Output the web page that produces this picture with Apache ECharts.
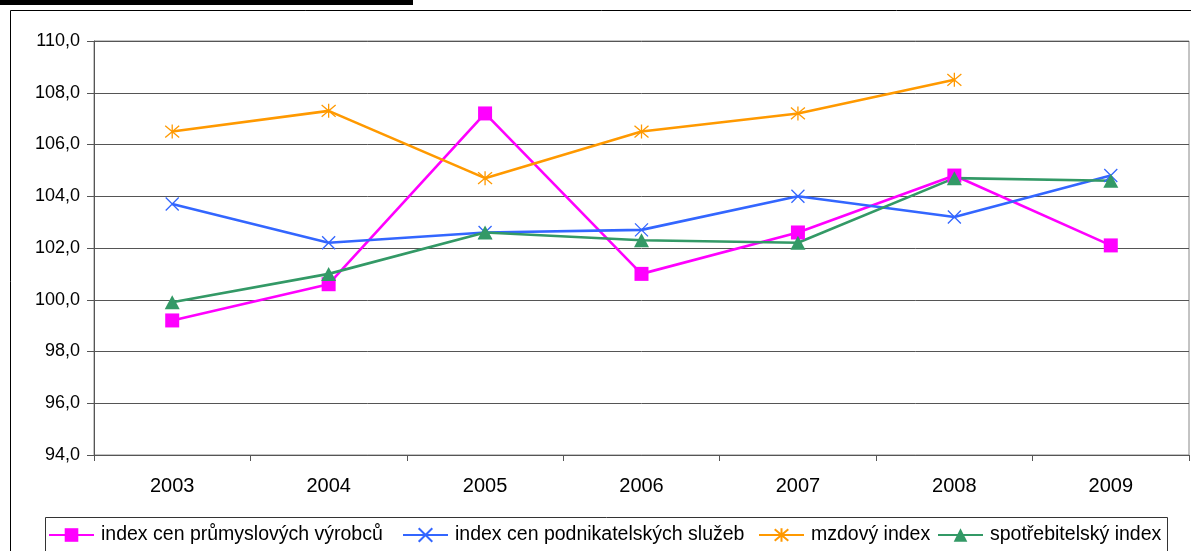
<!DOCTYPE html>
<html>
<head>
<meta charset="utf-8">
<script src="https://cdn.jsdelivr.net/npm/echarts@6/dist/echarts.min.js"></script>
<style>
  html, body { margin: 0; padding: 0; background: #fff; }
  #chart { width: 1191px; height: 551px; }
</style>
</head>
<body>
<div id="chart"></div>
<script>
// Years on the category axis
const years = ['2003', '2004', '2005', '2006', '2007', '2008', '2009'];

// Index values (previous year = 100)
const prumyslVyrobci = [99.2, 100.6, 107.2, 101.0, 102.6, 104.8, 102.1];
const podnikSluzby   = [103.7, 102.2, 102.6, 102.7, 104.0, 103.2, 104.8];
const mzdovyIndex    = [106.5, 107.3, 104.7, 106.5, 107.2, 108.5, null];
const spotrebIndex   = [99.9, 101.0, 102.6, 102.3, 102.2, 104.7, 104.6];

// Series names
const seriesNames = [
  'index cen průmyslových výrobců',
  'index cen podnikatelských služeb',
  'mzdový index',
  'spotřebitelský index'
];

// Value axis range
const yMin = 94, yMax = 110, yStep = 2;

const FONT = '"Liberation Sans", Arial, sans-serif';
const CROSS = 'path://M0,0L10,10M10,0L0,10';
const STAR = 'path://M0,0L10,10M10,0L0,10M5,-1L5,11';

const chart = echarts.init(document.getElementById('chart'), null, { renderer: 'canvas' });

function lineSeries(name, data, color, symbol, size, stroked) {
  return {
    name: name,
    type: 'line',
    data: data,
    symbol: symbol,
    symbolSize: size,
    showAllSymbol: true,
    connectNulls: false,
    lineStyle: { color: color, width: 2.6 },
    itemStyle: stroked
      ? { color: color, borderColor: color, borderWidth: 1.3 }
      : { color: color, borderWidth: 0 },
    emphasis: { disabled: true },
    animation: false
  };
}

function legendItem(name, left) {
  return {
    data: [name],
    left: left,
    top: 525,
    padding: 0,
    itemWidth: 45,
    itemHeight: 17,
    selectedMode: false,
    textStyle: { fontFamily: FONT, fontSize: 19.5, color: '#000', padding: [0, 0, 0, 2] }
  };
}

chart.setOption({
  backgroundColor: '#fff',
  animation: false,
  textStyle: { fontFamily: FONT },
  graphic: [
    { type: 'rect', shape: { x: 0, y: 0, width: 413, height: 5 }, style: { fill: '#000' }, silent: true },
    { type: 'rect', shape: { x: 10.5, y: 10.5, width: 1300, height: 700 }, style: { fill: 'none', stroke: '#000', lineWidth: 1 }, silent: true },
    { type: 'rect', shape: { x: 45.5, y: 517.5, width: 1122, height: 60 }, style: { fill: 'none', stroke: '#333', lineWidth: 1 }, silent: true }
  ],
  grid: {
    left: 94, top: 41, right: 2, bottom: 96,
    show: true, borderColor: '#888', borderWidth: 1, backgroundColor: 'transparent'
  },
  legend: [
    legendItem(seriesNames[0], 48),
    legendItem(seriesNames[1], 402),
    legendItem(seriesNames[2], 758),
    legendItem(seriesNames[3], 937)
  ],
  xAxis: {
    type: 'category',
    data: years,
    boundaryGap: true,
    axisLine: { lineStyle: { color: '#555', width: 1 } },
    axisTick: { show: true, length: 6, inside: false, lineStyle: { color: '#555' } },
    axisLabel: { color: '#000', fontSize: 20, fontFamily: FONT, margin: 21 },
    splitLine: { show: false }
  },
  yAxis: {
    type: 'value',
    min: yMin, max: yMax, interval: yStep,
    axisLine: { show: true, lineStyle: { color: '#555', width: 1 } },
    axisTick: { show: true, length: 7, lineStyle: { color: '#555' } },
    axisLabel: {
      color: '#000', fontSize: 18, fontFamily: FONT, margin: 14,
      formatter: v => v.toFixed(1).replace('.', ',')
    },
    splitLine: { show: true, lineStyle: { color: '#555', width: 1 } }
  },
  series: [
    lineSeries(seriesNames[0], prumyslVyrobci, '#FF00FF', 'rect', 14, false),
    lineSeries(seriesNames[1], podnikSluzby, '#3366FF', CROSS, 13, true),
    lineSeries(seriesNames[2], mzdovyIndex, '#FF9900', STAR, 14, true),
    lineSeries(seriesNames[3], spotrebIndex, '#339966', 'triangle', [15, 14], false)
  ]
});
</script>
</body>
</html>
